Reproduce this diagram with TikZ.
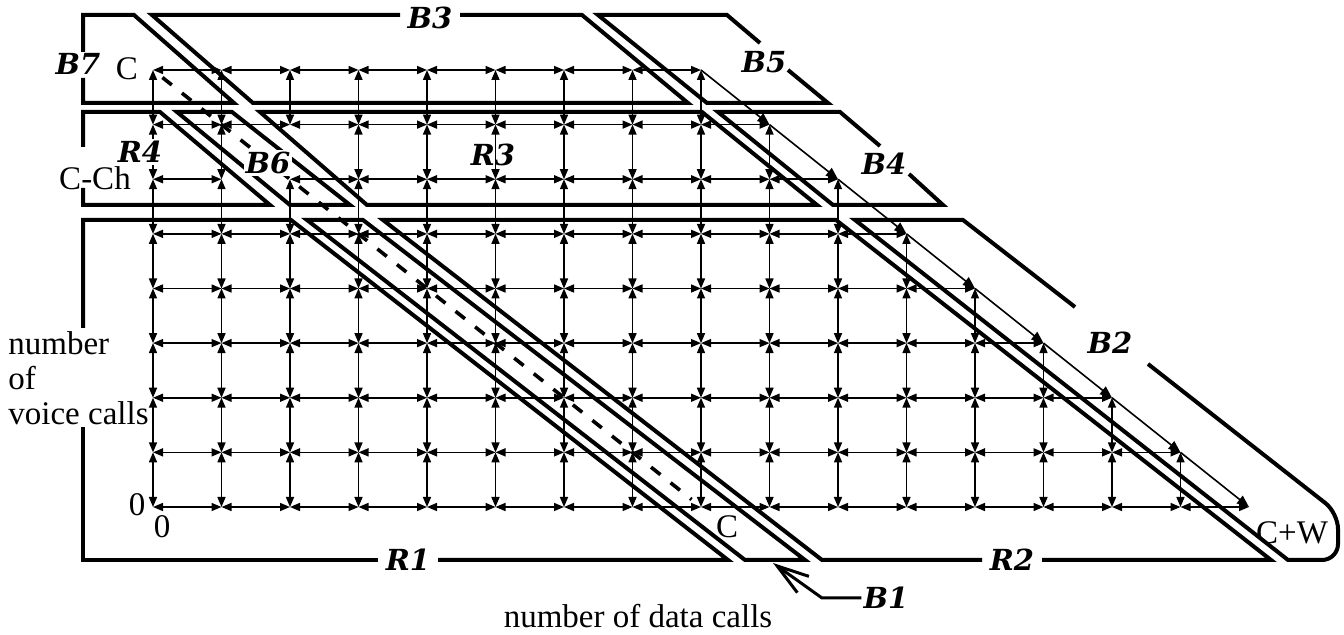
\documentclass[tikz,border=0pt]{standalone}
\usepackage{fontspec}
\setmainfont{Liberation Serif}
\newfontfamily\lblfont{DejaVu Serif}
\usetikzlibrary{arrows.meta}
\begin{document}
\begin{tikzpicture}[x=0.5pt,y=-0.5pt,
  region/.style={line width=2pt, line join=miter, line cap=butt},
  tr/.style={line width=0.8pt, {Triangle[length=5pt,width=4pt]}-{Triangle[length=5pt,width=4pt]}},
  dg/.style={line width=0.8pt, -{Triangle[length=6pt,width=4.8pt]}},
  dashline/.style={line width=1.8pt, dash pattern=on 6pt off 6.5pt},
  lab/.style={font=\lblfont\bfseries\itshape\fontsize{14.5}{16}\selectfont, inner sep=1pt},
  labw/.style={lab, fill=white},
  txt/.style={font=\fontsize{16.5}{19}\selectfont, inner sep=0pt},
  ptr/.style={line width=1.5pt, -{Straight Barb[length=16pt,width=10pt,line width=1.5pt]}}]
\useasboundingbox (0,0) rectangle (1344,635);

% lattice states
\foreach \j in {0,...,8}{
  \pgfmathtruncatemacro\imax{16-\j}
  \foreach \i in {0,...,\imax}{
    \coordinate (p-\i-\j) at ({153+68.5*\i},{507-54.625*\j});
  }}

% horizontal transitions
\foreach \j in {0,...,8}{
  \pgfmathtruncatemacro\imax{15-\j}
  \foreach \i in {0,...,\imax}{
    \pgfmathtruncatemacro\ii{\i+1}
    \pgfmathtruncatemacro\skp{and(\i==1,\j==6)}
    \ifnum\skp=0 \draw[tr] (p-\i-\j) -- (p-\ii-\j);\fi
  }}
% vertical transitions
\foreach \j in {0,...,7}{
  \pgfmathtruncatemacro\jj{\j+1}
  \pgfmathtruncatemacro\imax{15-\j}
  \foreach \i in {0,...,\imax}{
    \pgfmathtruncatemacro\skp{and(\i==2,\j==6)}
    \ifnum\skp=0 \draw[tr] (p-\i-\j) -- (p-\i-\jj);\fi
  }}
% diagonal transitions on the outer boundary
\foreach \i in {8,...,15}{
  \pgfmathtruncatemacro\ja{16-\i}
  \pgfmathtruncatemacro\ii{\i+1}
  \pgfmathtruncatemacro\jb{15-\i}
  \draw[dg] (p-\i-\ja) -- (p-\ii-\jb);
}

% dashed boundary i+j=C
\draw[dashline, shorten <=6pt, shorten >=6pt] (p-0-8) -- (p-8-0);

% ---------- region outlines ----------
% top strip
\draw[region] (83,52) -- (83,15) -- (134,15) -- (234,103) -- (83,103) -- (83,78);          % B7
\draw[region] (400,15) -- (152,15) -- (253,103) -- (688,103) -- (582,15) -- (460,15);      % B3
\draw[region] (760,43) -- (727,15) -- (598,15) -- (707,103) -- (828,103) -- (788,70);      % B5
% middle strip
\draw[region] (83,147) -- (83,112) -- (160,112) -- (270,205) -- (83,205) -- (83,188);      % R4
\draw[region] (177,112) -- (232,112) -- (350,205) -- (290,205) -- cycle;                   % B6
\draw[region] (260,112) -- (702,112) -- (817,205) -- (367,205) -- cycle;                   % R3
\draw[region] (880,146) -- (840,112) -- (718,112) -- (833,205) -- (943,205) -- (909,174);  % B4
% bottom strip
\draw[region] (83,328) -- (83,220) -- (291,220) -- (728,560) -- (438,560);                 % R1
\draw[region] (378,560) -- (83,560) -- (83,427);
\draw[region] (307,220) -- (363,220) -- (805,560) -- (745,560) -- cycle;                   % B1
\draw[region] (1042,560) -- (1271,560) -- (836,220) -- (383,220) -- (822,560) -- (982,560);% R2
\draw[region] (1075,307) -- (963,220) -- (855,220) -- (1288,560)
   [rounded corners=8pt] -- (1338,560) -- (1338,513) [sharp corners] -- (1148,364);        % B2

% ---------- region labels ----------
\node[lab]  (lB7) at (78,64)   {B7};
\node[labw] (lR4) at (140,152) {R4};
\node[labw] (lB6) at (268,163) {B6};
\node[lab]  (lR3) at (493,155) {R3};
\node[lab]  (lB3) at (430,18)  {B3};
\node[lab]  (lB5) at (764,62)  {B5};
\node[lab]  (lB4) at (884,164) {B4};
\node[lab]  (lB2) at (1110,343){B2};
\node[lab]  (lR1) at (408,560) {R1};
\node[lab]  (lR2) at (1012,560){R2};
\node[lab]  (lB1) at (886,598) {B1};

% B1 pointer
\coordinate (b1tip) at (773,563);
\draw[ptr] (lB1.west) -- (822,598) -- (b1tip);

% ---------- axis texts ----------
\node[txt] (tC)   at (127,69)  {C};
\node[txt] (tCCh) at (95,178)  {C-Ch};
\node[txt] (t0a)  at (137,505) {0};
\node[txt] (t0b)  at (162,527) {0};
\node[txt] (tCb)  at (727,527) {C};
\node[txt] (tCW)  at (1292,533){C+W};
\node[txt] (tx)   at (638,616) {number of data calls};
\node[txt, anchor=west] (ty1) at (8,343) {number};
\node[txt, anchor=west] (ty2) at (8,378) {of};
\node[txt, anchor=west] (ty3) at (8,413) {voice calls};
\end{tikzpicture}
\end{document}
